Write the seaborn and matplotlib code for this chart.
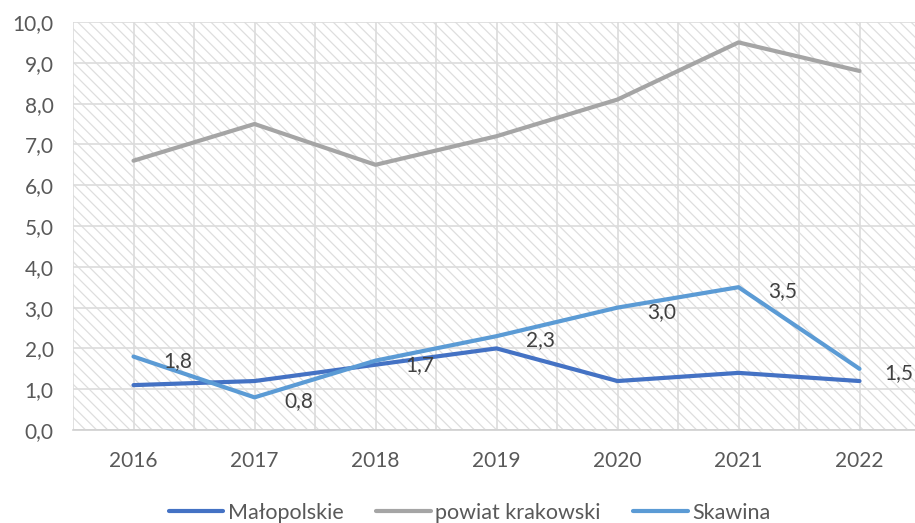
import pandas as pd
import matplotlib.pyplot as plt
import seaborn as sns
from matplotlib.patches import Rectangle

# Data
years = ['2016', '2017', '2018', '2019', '2020', '2021', '2022']
malopolskie = [1.1, 1.2, 1.6, 2.0, 1.2, 1.4, 1.2]
powiat_krakowski = [6.6, 7.5, 6.5, 7.2, 8.1, 9.5, 8.8]
skawina = [1.8, 0.8, 1.7, 2.3, 3.0, 3.5, 1.5]

series_names = ['Małopolskie', 'powiat krakowski', 'Skawina']
colors = ['#4472C4', '#A5A5A5', '#5B9BD5']
text_color = '#595959'


def build_frame():
    rows = []
    for name, values in zip(series_names, [malopolskie, powiat_krakowski, skawina]):
        for i, v in enumerate(values):
            rows.append({'pos': i, 'year': years[i], 'series': name, 'value': v})
    return pd.DataFrame(rows)


def main():
    sns.set_style('white')
    plt.rcParams['font.family'] = ['Lato', 'DejaVu Sans']
    plt.rcParams['hatch.color'] = '#DEDEDE'
    plt.rcParams['hatch.linewidth'] = 0.9

    df = build_frame()

    fig = plt.figure(figsize=(9.15, 5.23), dpi=100)
    ax = fig.add_axes([73 / 915, 1 - 430 / 523, 847 / 915, 408 / 523])

    # hatched plot background
    ax.add_patch(Rectangle((0, 0), 1, 1, transform=ax.transAxes, facecolor='white',
                           edgecolor='#DEDEDE', hatch='\\\\\\', linewidth=0, zorder=0))

    sns.lineplot(data=df, x='pos', y='value', hue='series', hue_order=series_names,
                 palette=colors, linewidth=3, ax=ax, legend=False, zorder=3)

    # data labels for Skawina (last one pulled in a bit so it stays on the canvas)
    for i, v in enumerate(skawina):
        dx = 28 if i == len(skawina) - 1 else 32
        ax.annotate(f'{v:.1f}'.replace('.', ','), (i, v), xytext=(dx, -3),
                    textcoords='offset points', ha='center', va='center',
                    fontsize=15, color='#404040', zorder=4)

    ax.set_xlim(-0.5, 6.5)
    ax.set_ylim(0, 10)
    ax.set_xticks(range(len(years)))
    ax.set_xticklabels(years)
    ax.set_xticks([x + 0.5 for x in range(-1, 7)], minor=True)
    ax.set_yticks(range(0, 11))
    ax.set_yticklabels([f'{y},0' for y in range(0, 11)])
    ax.grid(True, which='both', axis='x', color='#DCDCDC', linewidth=1.2, zorder=1)
    ax.grid(True, which='major', axis='y', color='#DCDCDC', linewidth=1.2, zorder=1)
    ax.set_axisbelow(True)
    ax.tick_params(axis='both', which='both', length=0, labelsize=15, colors=text_color)
    ax.tick_params(axis='x', pad=15)
    ax.tick_params(axis='y', pad=14)
    ax.set_xlabel('')
    ax.set_ylabel('')
    for side in ['top', 'right', 'left']:
        ax.spines[side].set_visible(False)
    ax.spines['bottom'].set_color('#D0D0D0')
    ax.spines['bottom'].set_linewidth(1.2)

    handles = [plt.Line2D([], [], color=c, linewidth=3) for c in colors]
    fig.legend(handles, series_names, loc='center', bbox_to_anchor=(0.513, 0.02),
               ncol=3, frameon=False, fontsize=15.5, handlelength=2.55, handletextpad=0.2,
               columnspacing=1.5, labelcolor=text_color)

    fig.savefig('out.png', dpi=100)


if __name__ == "__main__":
    main()
